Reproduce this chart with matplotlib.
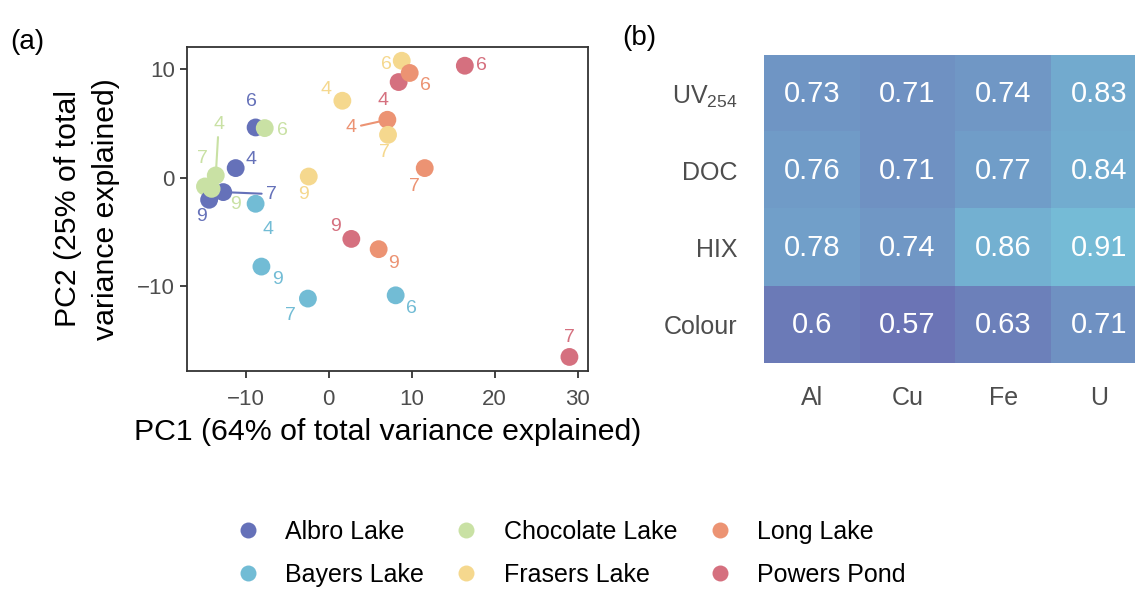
import matplotlib
matplotlib.use("Agg")
import matplotlib.pyplot as plt
from matplotlib.colors import LinearSegmentedColormap, Normalize
from matplotlib.lines import Line2D
import numpy as np

plt.rcParams['font.family'] = ['Liberation Sans', 'DejaVu Sans']
plt.rcParams['mathtext.fontset'] = 'custom'
plt.rcParams['mathtext.rm'] = 'Liberation Sans'
plt.rcParams['mathtext.it'] = 'Liberation Sans:italic'

# ---------------- data ----------------
lakes = ["Albro Lake", "Bayers Lake", "Chocolate Lake", "Frasers Lake", "Long Lake", "Powers Pond"]
months = [4, 6, 7, 9]
pc1 = {
    "Albro Lake":     [-11.2, -8.8, -12.7, -14.4],
    "Bayers Lake":    [-8.8, 8.07, -2.5, -8.1],
    "Chocolate Lake": [-13.6, -7.7, -14.9, -14.1],
    "Frasers Lake":   [1.65, 8.8, 7.15, -2.4],
    "Long Lake":      [7.07, 9.76, 11.57, 6.02],
    "Powers Pond":    [8.43, 16.4, 29.0, 2.73],
}
pc2 = {
    "Albro Lake":     [0.87, 4.63, -1.35, -2.06],
    "Bayers Lake":    [-2.43, -10.9, -11.2, -8.24],
    "Chocolate Lake": [0.19, 4.57, -0.83, -1.05],
    "Frasers Lake":   [7.1, 10.8, 3.95, 0.09],
    "Long Lake":      [5.34, 9.67, 0.87, -6.63],
    "Powers Pond":    [8.83, 10.34, -16.6, -5.68],
}
heat_rows = ["UV$_\\mathrm{254}$", "DOC", "HIX", "Colour"]
heat_cols = ["Al", "Cu", "Fe", "U"]
heat_vals = [
    [0.73, 0.71, 0.74, 0.83],
    [0.76, 0.71, 0.77, 0.84],
    [0.78, 0.74, 0.86, 0.91],
    [0.60, 0.57, 0.63, 0.71],
]

# ---------------- styling ----------------
colors = {
    "Albro Lake": "#6571b9",
    "Bayers Lake": "#72bcd5",
    "Chocolate Lake": "#c9e1a4",
    "Frasers Lake": "#f5d88e",
    "Long Lake": "#ec9373",
    "Powers Pond": "#d5707f",
}
# label offsets in pixels (dx right, dy down), and whether a leader segment is drawn
label_off = {
    "Albro Lake":     [(15, -9, False), (-4, -26, False), (48, 2, True), (-8, 17, False)],
    "Bayers Lake":    [(12, 26, False), (16, 13, False), (-17, 17, False), (16, 13, False)],
    "Chocolate Lake": [(3, -51, True), (18, 2, False), (-3, -28, False), (24, 16, False)],
    "Frasers Lake":   [(-16, -11, False), (-15, 4, False), (-4, 18, False), (-5, 18, False)],
    "Long Lake":      [(-36, 8, True), (16, 13, False), (-10, 18, False), (15, 14, False)],
    "Powers Pond":    [(-16, 18, False), (17, 0, False), (0, -19, False), (-16, -12, False)],
}

W, H = 1135, 590
fig = plt.figure(figsize=(W / 100, H / 100), dpi=100)

# ---------------- panel (a) ----------------
ax = fig.add_axes([186.7 / W, 1 - 371 / H, 401 / W, 324.3 / H])
px2pt = 0.72
for mi, m in enumerate(months):
    for lake in lakes:
        x = pc1[lake][mi]
        y = pc2[lake][mi]
        ax.scatter([x], [y], s=165, color=colors[lake], edgecolors='none', zorder=3)
for lake in lakes:
    for mi, m in enumerate(months):
        x = pc1[lake][mi]
        y = pc2[lake][mi]
        dx, dy, seg = label_off[lake][mi]
        kw = {}
        if seg:
            kw['arrowprops'] = dict(arrowstyle='-', color=colors[lake], lw=1.5,
                                    shrinkA=1, shrinkB=0)
        ax.annotate(str(m), xy=(x, y), xytext=(dx * px2pt, -dy * px2pt),
                    textcoords='offset points', ha='center', va='center',
                    fontsize=14, color=colors[lake], zorder=2, **kw)

ax.set_xlim(-17.1, 31.2)
ax.set_ylim(-17.9, 12.1)
ax.set_xticks([-10, 0, 10, 20, 30])
ax.set_yticks([-10, 0, 10])
ax.set_xticklabels(["\u221210", "0", "10", "20", "30"])
ax.set_yticklabels(["\u221210", "0", "10"])
ax.tick_params(labelsize=16, colors='#333333', labelcolor='#4d4d4d', length=5, width=1.3)
ax.tick_params(axis='x', pad=8)
for sp in ax.spines.values():
    sp.set_color('#333333')
    sp.set_linewidth(1.3)
ax.set_xlabel("PC1 (64% of total variance explained)", fontsize=21.8, labelpad=6)
ax.set_ylabel("PC2 (25% of total\nvariance explained)", fontsize=21.8, labelpad=12,
              linespacing=1.45)

# ---------------- panel (b) ----------------
hx = fig.add_axes([764 / W, 1 - 363.3 / H, 383 / W, 308.3 / H])
cmap = LinearSegmentedColormap.from_list("blues", ["#6b74b5", "#75bbd6"])
norm = Normalize(vmin=0.57, vmax=0.91)
arr = np.array(heat_vals)
hx.imshow(arr, cmap=cmap, norm=norm, aspect='auto', interpolation='nearest')
for i in range(len(heat_rows)):
    for j in range(len(heat_cols)):
        hx.text(j, i, f"{heat_vals[i][j]:g}", ha='center', va='center',
                color='white', fontsize=21)
hx.set_xticks(range(len(heat_cols)))
hx.set_xticklabels(heat_cols)
hx.set_yticks(range(len(heat_rows)))
hx.set_yticklabels(heat_rows)
hx.tick_params(length=0, labelsize=18, labelcolor='#4d4d4d', pad=19)
hx.tick_params(axis='x', pad=16)
for sp in hx.spines.values():
    sp.set_visible(False)

# ---------------- legend ----------------
handles = [Line2D([0], [0], marker='o', linestyle='none', markersize=11.5,
                  markerfacecolor=colors[l], markeredgecolor='none') for l in lakes]
fig.legend(handles, lakes, loc='upper left', bbox_to_anchor=(235 / W, 1 - 520 / H),
           ncol=3, frameon=False, fontsize=18, handlelength=1.0,
           handletextpad=1.0, columnspacing=1.2, labelspacing=0.75,
           borderpad=0, borderaxespad=0)

fig.text(10 / W, 1 - 42 / H, "(a)", fontsize=20, va='center', ha='left')
fig.text(622 / W, 1 - 38 / H, "(b)", fontsize=20, va='center', ha='left')

fig.savefig("out.png", dpi=100)
